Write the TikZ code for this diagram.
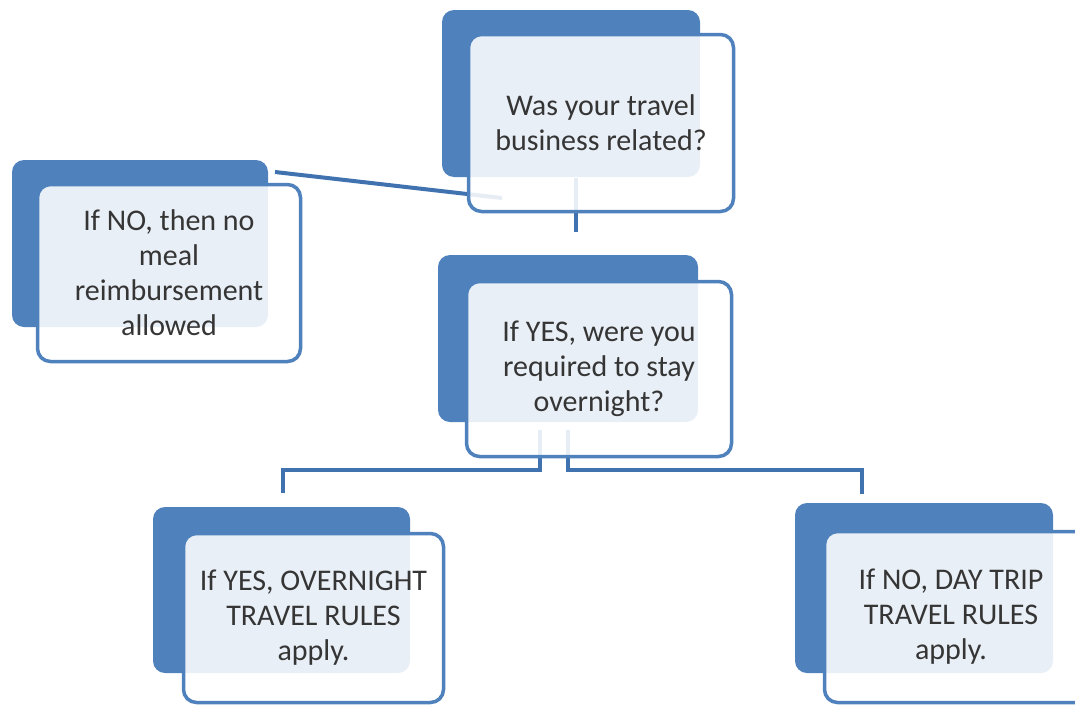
\documentclass[tikz,border=0pt]{standalone}
\usepackage{fontspec}
\setmainfont{Carlito}
\definecolor{boxblue}{HTML}{4F81BD}
\definecolor{lineblue}{HTML}{3F72AF}
\definecolor{txtgray}{HTML}{353535}
\begin{document}
\begin{tikzpicture}[x=1pt,y=-1pt,
  backbox/.style={fill=boxblue, rounded corners=12pt, draw=none, inner sep=0pt},
  frontbox/.style={draw=boxblue, line width=3.5pt, fill=white, fill opacity=0.88, text opacity=1,
    rounded corners=13pt, inner sep=0pt, align=center, text=txtgray,
    font=\fontsize{30}{35}\selectfont},
  conn/.style={draw=lineblue, line width=4pt}]
\clip (0,0) rectangle (1075,704);
\fill[white] (0,0) rectangle (1075,704);
% connector end points
\coordinate (a1) at (275,172);
\coordinate (a2) at (502,198);
\coordinate (b1) at (576,178);
\coordinate (b2) at (576,232);
\coordinate (l1) at (540,430);
\coordinate (l2) at (283,493);
\coordinate (r1) at (568,430);
\coordinate (r2) at (862,494);
% connectors
\draw[conn] (a1) -- (a2);
\draw[conn] (b1) -- (b2);
\draw[conn] (l1) -- (l1 |- 0,470) -- (l2 |- 0,470) -- (l2);
\draw[conn] (r1) -- (r1 |- 0,470) -- (r2 |- 0,470) -- (r2);
% back boxes
\node[backbox, minimum width=258, minimum height=167] (q1b) at (571,93.5) {};
\node[backbox, minimum width=256, minimum height=167] (n1b) at (140,243.5) {};
\node[backbox, minimum width=260, minimum height=167] (q2b) at (568,338.5) {};
\node[backbox, minimum width=257, minimum height=166] (y1b) at (281.5,590) {};
\node[backbox, minimum width=258, minimum height=170] (n2b) at (924,588) {};
% front boxes
\node[frontbox, minimum width=265, minimum height=177] (q1) at (601,123)
  {Was your travel\\business related?};
\node[frontbox, minimum width=263, minimum height=177] (n1) at (169,273)
  {If NO, then no\\meal\\reimbursement\\allowed};
\node[frontbox, minimum width=265, minimum height=175] (q2) at (599,369)
  {If YES, were you\\required to stay\\overnight?};
\node[frontbox, minimum width=260, minimum height=169] (y1) at (313.5,618)
  {If YES, OVERNIGHT\\TRAVEL RULES\\apply.};
\node[frontbox, minimum width=275, minimum height=171] (n2) at (962,617)
  {\hspace*{-22pt}If NO, DAY TRIP\\\hspace*{-22pt}TRAVEL RULES\\\hspace*{-22pt}apply.};
\end{tikzpicture}
\end{document}
